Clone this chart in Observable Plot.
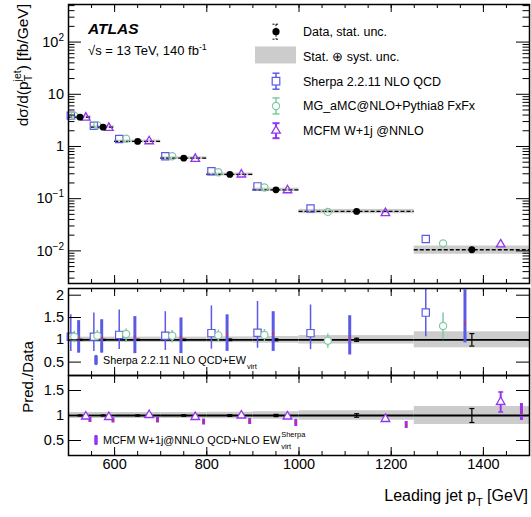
<!DOCTYPE html>
<html><head><meta charset="utf-8">
<script src="https://cdn.jsdelivr.net/npm/d3@7"></script>
<script src="https://cdn.jsdelivr.net/npm/@observablehq/plot@0.6"></script>
<style>
body{margin:0;background:#fff;}
#chart{position:relative;width:531px;height:517px;background:#fff;}
#chart > svg{display:block;}
</style></head><body><div id="chart"></div>
<script>
// ---- data ----
const binLo = [500, 550, 600, 700, 800, 900, 1000, 1250];
const binHi = [550, 600, 700, 800, 900, 1000, 1250, 1500];
const dataXsec = [3.64, 2.34, 1.25, 0.597, 0.291, 0.148, 0.0569, 0.0105];
const dataStat = [0.01, 0.01, 0.012, 0.015, 0.018, 0.022, 0.035, 0.14];
const totUnc   = [0.06, 0.06, 0.06, 0.06, 0.065, 0.075, 0.095, 0.18];
const sherpaXsec = [3.9, 2.5, 1.39, 0.65, 0.335, 0.172, 0.065, 0.0169];
const mgXsec     = [3.9, 2.55, 1.41, 0.65, 0.32, 0.164, 0.0558, 0.0138];
const mcfmXsec   = [3.57, 2.27, 1.26, 0.58, 0.29, 0.145, 0.053, 0.0133];
const sherpaRatio = [1.07, 1.07, 1.11, 1.09, 1.15, 1.16, 1.15, 1.61];
const sherpaLo    = [0.74, 0.74, 0.78, 0.76, 0.79, 0.81, 0.78, 1.07];
const sherpaHi    = [1.56, 1.60, 1.67, 1.63, 1.76, 1.86, 1.78, 2.2];
const mgRatio = [1.07, 1.09, 1.13, 1.09, 1.10, 1.11, 0.98, 1.31];
const mgLo    = [0.93, 0.95, 0.94, 0.93, 0.96, 0.96, 0.81, 1.0];
const mgHi    = [1.19, 1.21, 1.24, 1.21, 1.22, 1.23, 1.13, 1.6];
const sherpaEwRatio = [1.04, 1.06, 1.08, 1.07, 1.12, 1.14, 1.02, 1.37];
const sherpaEwLo    = [0.70, 0.70, 0.69, 0.69, 0.74, 0.74, 0.66, 0.93];
const sherpaEwHi    = [1.43, 1.45, 1.52, 1.49, 1.56, 1.63, 1.54, 2.12];
const mcfmRatio = [0.98, 0.97, 1.01, 0.97, 1.0, 0.98, 0.93, 1.27];
const mcfmLo    = [0.97, 0.96, 0.99, 0.96, 0.99, 0.97, 0.92, 1.07];
const mcfmHi    = [0.99, 0.98, 1.03, 0.98, 1.01, 0.99, 0.94, 1.47];
const mcfmEwRatio = [0.91, 0.90, 0.90, 0.87, 0.88, 0.85, 0.81, 1.07];
const mcfmEwLo    = [0.86, 0.85, 0.85, 0.81, 0.82, 0.78, 0.74, 0.90];
const mcfmEwHi    = [0.96, 0.95, 0.96, 0.93, 0.94, 0.92, 0.88, 1.24];

const xTickLabels = [600, 800, 1000, 1200, 1400];
const xMinorTicks = d3.range(500, 1501, 50);
const yTopTicks = [0.01, 0.1, 1, 10, 100];
const yTopTickText = [["10", "−2"], ["10", "−1"], ["1", ""], ["10", ""], ["10", "2"]];
const yRatioTicks = [0.5, 1, 1.5, 2];
const yRatio2Ticks = [0.5, 1, 1.5];
const legendLabels = ["Data, stat. unc.", "Stat. \u2295 syst. unc.", "Sherpa 2.2.11 NLO QCD", "MG_aMC@NLO+Pythia8 FxFx", "MCFM W+1j @NNLO"];

// ---- styling ----
const FONT = '"Liberation Sans", Arial, Helvetica, sans-serif';
const BLUE = "#5a5ae6", GREEN = "#80c9a3", PURPLE = "#9433f0", GRAY = "#cccccc", RED = "#ff2020";
const W = 531, ML = 68, MR = 2, FW = W - ML - MR;

const rows = binLo.map((lo, i) => ({i, lo, hi: binHi[i], w: binHi[i] - lo}));
const at = f => r => r.lo + f * r.w;
const capSym = {draw(ctx, size) { const h = Math.sqrt(size / Math.PI); ctx.moveTo(-h, 0); ctx.lineTo(h, 0); }};

const yMinorTop = [];
[0.001, 0.01, 0.1, 1, 10, 100].forEach(d => { for (let k = 2; k <= 9; k++) { const v = d * k; if (v > 0.00237 && v < 525) yMinorTop.push(v); } });

function frameTicks(FH, yMaj, yLen, yMin, yMinLen) {
  const m = [
    Plot.tickX(xMinorTicks, {x: d => d, insetTop: FH - 4, stroke: "black"}),
    Plot.tickX(xMinorTicks, {x: d => d, insetBottom: FH - 4, stroke: "black"}),
    Plot.tickX(xTickLabels, {x: d => d, insetTop: FH - 8, stroke: "black"}),
    Plot.tickX(xTickLabels, {x: d => d, insetBottom: FH - 8, stroke: "black"}),
    Plot.tickY(yMaj, {y: d => d, insetRight: FW - yLen, stroke: "black"}),
    Plot.tickY(yMaj, {y: d => d, insetLeft: FW - yLen, stroke: "black"})
  ];
  if (yMin) m.push(
    Plot.tickY(yMin, {y: d => d, insetRight: FW - yMinLen, stroke: "black"}),
    Plot.tickY(yMin, {y: d => d, insetLeft: FW - yMinLen, stroke: "black"}));
  m.push(Plot.frame({stroke: "black", strokeWidth: 1.5}));
  return m;
}
const baseStyle = {fontFamily: FONT, background: "transparent", overflow: "visible"};

// ---- top panel ----
const topPlot = Plot.plot({
  width: W, height: 285, marginLeft: ML, marginRight: MR, marginTop: 4, marginBottom: 2,
  style: baseStyle,
  x: {domain: [500, 1500], axis: null},
  y: {type: "log", domain: [0.00237, 525], axis: null},
  marks: [
    Plot.rect(rows, {x1: "lo", x2: "hi", y1: r => dataXsec[r.i] * (1 - totUnc[r.i]), y2: r => dataXsec[r.i] * (1 + totUnc[r.i]), fill: GRAY}),
    Plot.ruleY(rows, {x1: "lo", x2: "hi", y: r => dataXsec[r.i], stroke: "black", strokeWidth: 1.3, strokeDasharray: "4,2"}),
    Plot.ruleX(rows, {x: at(0.5), y1: r => dataXsec[r.i] * (1 - dataStat[r.i]), y2: r => dataXsec[r.i] * (1 + dataStat[r.i]), stroke: "black", strokeDasharray: "2,1"}),
    Plot.dot(rows, {x: at(0.1), y: r => sherpaXsec[r.i], symbol: "square", r: 4.1, stroke: BLUE, strokeWidth: 1.2, fill: "none"}),
    Plot.dot(rows, {x: at(0.25), y: r => mgXsec[r.i], symbol: "circle", r: 3.6, stroke: GREEN, strokeWidth: 1.2, fill: "none"}),
    Plot.dot(rows, {x: at(0.75), y: r => mcfmXsec[r.i], symbol: "triangle", r: 3.2, stroke: PURPLE, strokeWidth: 1.3, fill: "none"}),
    Plot.dot(rows, {x: at(0.5), y: r => dataXsec[r.i], r: 3.4, fill: "black"}),
    ...frameTicks(279, yTopTicks, 13, yMinorTop, 6.5)
  ]
});

// ---- ratio panel: Sherpa / MG ----
const midPlot = Plot.plot({
  width: W, height: 90, marginLeft: ML, marginRight: MR, marginTop: 3, marginBottom: 0,
  style: baseStyle,
  x: {domain: [500, 1500], axis: null},
  y: {domain: [0.2, 2.15], axis: null},
  marks: [
    Plot.rect(rows, {x1: "lo", x2: "hi", y1: r => 1 - totUnc[r.i], y2: r => 1 + totUnc[r.i], fill: GRAY}),
    Plot.ruleY(rows, {x1: "lo", x2: "hi", y: 1, stroke: "black", strokeWidth: 1.8}),
    Plot.ruleX(rows, {x: at(0.5), y1: r => 1 - dataStat[r.i], y2: r => 1 + dataStat[r.i], stroke: "black", strokeWidth: 1.2}),
    Plot.dot(rows, {x: at(0.5), y: r => 1 - dataStat[r.i], symbol: capSym, r: 2.5, stroke: "black", strokeWidth: 1.2}),
    Plot.dot(rows, {x: at(0.5), y: r => 1 + dataStat[r.i], symbol: capSym, r: 2.5, stroke: "black", strokeWidth: 1.2}),
    Plot.ruleX(rows, {x: at(0.1), y1: r => sherpaLo[r.i], y2: r => sherpaHi[r.i], stroke: BLUE, strokeWidth: 1.5, clip: true}),
    Plot.ruleX(rows, {x: at(0.25), y1: r => mgLo[r.i], y2: r => mgHi[r.i], stroke: GREEN, strokeWidth: 1.5}),
    Plot.ruleX(rows, {x: at(0.44), y1: r => sherpaEwLo[r.i], y2: r => sherpaEwHi[r.i], stroke: BLUE, strokeWidth: 3, clip: true}),
    Plot.dot(rows, {x: at(0.44), y: r => sherpaEwRatio[r.i], r: 1.1, fill: RED}),
    Plot.dot(rows, {x: at(0.1), y: r => sherpaRatio[r.i], symbol: "square", r: 4.1, stroke: BLUE, strokeWidth: 1.2, fill: "white"}),
    Plot.dot(rows, {x: at(0.25), y: r => mgRatio[r.i], symbol: "circle", r: 3.6, stroke: GREEN, strokeWidth: 1.2, fill: "white"}),
    ...frameTicks(87, yRatioTicks, 13),
    Plot.axisY(yRatioTicks, {anchor: "left", tickSize: 0, tickPadding: 4.5, fontSize: 14.5, label: null, tickFormat: d => String(d)})
  ]
});

// ---- ratio panel: MCFM ----
const botPlot = Plot.plot({
  width: W, height: 142, marginLeft: ML, marginRight: MR, marginTop: 0, marginBottom: 62,
  style: baseStyle,
  x: {domain: [500, 1500]},
  y: {domain: [0.2, 1.8]},
  marks: [
    Plot.rect(rows, {x1: "lo", x2: "hi", y1: r => 1 - totUnc[r.i], y2: r => 1 + totUnc[r.i], fill: GRAY}),
    Plot.ruleY(rows, {x1: "lo", x2: "hi", y: 1, stroke: "black", strokeWidth: 1.8}),
    Plot.ruleX(rows, {x: at(0.5), y1: r => 1 - dataStat[r.i], y2: r => 1 + dataStat[r.i], stroke: "black", strokeWidth: 1.2}),
    Plot.dot(rows, {x: at(0.5), y: r => 1 - dataStat[r.i], symbol: capSym, r: 2.5, stroke: "black", strokeWidth: 1.2}),
    Plot.dot(rows, {x: at(0.5), y: r => 1 + dataStat[r.i], symbol: capSym, r: 2.5, stroke: "black", strokeWidth: 1.2}),
    Plot.ruleX(rows, {x: at(0.75), y1: r => mcfmLo[r.i], y2: r => mcfmHi[r.i], stroke: PURPLE, strokeWidth: 2}),
    Plot.dot(rows, {x: at(0.75), y: r => mcfmLo[r.i], symbol: capSym, r: 2.5, stroke: PURPLE, strokeWidth: 1.5}),
    Plot.dot(rows, {x: at(0.75), y: r => mcfmHi[r.i], symbol: capSym, r: 2.5, stroke: PURPLE, strokeWidth: 1.5}),
    Plot.ruleX(rows, {x: at(0.93), y1: r => mcfmEwLo[r.i], y2: r => mcfmEwHi[r.i], stroke: PURPLE, strokeWidth: 3}),
    Plot.dot(rows, {x: at(0.93), y: r => mcfmEwRatio[r.i], r: 1.1, fill: RED}),
    Plot.dot(rows, {x: at(0.75), y: r => mcfmRatio[r.i], symbol: "triangle", r: 3.2, stroke: PURPLE, strokeWidth: 1.3, fill: "white"}),
    ...frameTicks(80, yRatio2Ticks, 13),
    Plot.axisY(yRatio2Ticks, {anchor: "left", tickSize: 0, tickPadding: 4.5, fontSize: 14.5, label: null, tickFormat: d => String(d)}),
    Plot.axisX(xTickLabels, {anchor: "bottom", tickSize: 0, tickPadding: 3, fontSize: 14.5, label: null, tickFormat: d => String(d)})
  ]
});

const chart = document.getElementById("chart");
chart.append(topPlot, midPlot, botPlot);

// ---- overlay texts (titles, legend, labels) ----
const ov = d3.select(chart).append("svg").attr("width", W).attr("height", 517)
  .style("position", "absolute").style("left", 0).style("top", 0).style("pointer-events", "none")
  .attr("font-family", FONT);

// top-panel y tick labels placed through the plot's own y scale
const syTop = topPlot.scale("y");
yTopTicks.forEach((v, k) => {
  const t = ov.append("text").attr("x", 64).attr("y", syTop.apply(v) + 5.2).attr("text-anchor", "end").attr("font-size", 14.5);
  t.append("tspan").text(yTopTickText[k][0]);
  if (yTopTickText[k][1]) t.append("tspan").attr("dy", -6).attr("font-size", 10).text(yTopTickText[k][1]);
});

// axis titles
const yt = ov.append("text").attr("transform", "translate(28,4) rotate(-90)").attr("text-anchor", "end").attr("font-size", 15.5);
yt.append("tspan").text("d\u03c3/d(p");
yt.append("tspan").attr("dy", 4).attr("font-size", 10.5).text("T");
yt.append("tspan").attr("dx", -6.5).attr("dy", -11).attr("font-size", 10.5).text("jet");
yt.append("tspan").attr("dy", 7).text(") [fb/GeV]");

ov.append("text").attr("transform", "translate(33,377) rotate(-90)").attr("text-anchor", "middle").attr("font-size", 15).text("Pred./Data");

const xt = ov.append("text").attr("x", 528).attr("y", 501).attr("text-anchor", "end").attr("font-size", 16);
xt.append("tspan").text("Leading jet p");
xt.append("tspan").attr("dy", 5).attr("font-size", 11).text("T");
xt.append("tspan").attr("dy", -5).text(" [GeV]");

// ATLAS label
ov.append("text").attr("x", 88).attr("y", 34).attr("font-size", 15.5).attr("font-weight", "bold").attr("font-style", "italic").text("ATLAS");
const lumi = ov.append("text").attr("x", 88).attr("y", 55).attr("font-size", 13);
lumi.append("tspan").text("\u221as = 13 TeV, 140 fb");
lumi.append("tspan").attr("dy", -5).attr("font-size", 9).text("-1");

// legend
const lx = 276, tx = 303, ly0 = 31.7, dly = 24.75;
legendLabels.forEach((s, k) => {
  ov.append("text").attr("x", tx).attr("y", ly0 + k * dly + 4.5).attr("font-size", 12.5).text(s);
});
function errSym(g, cy, half, color, sw, dash) {
  g.append("line").attr("x1", lx).attr("x2", lx).attr("y1", cy - half).attr("y2", cy + half).attr("stroke", color).attr("stroke-width", sw).attr("stroke-dasharray", dash || null);
  [cy - half, cy + half].forEach(yy => g.append("line").attr("x1", lx - 3.5).attr("x2", lx + 3.5).attr("y1", yy).attr("y2", yy).attr("stroke", color).attr("stroke-width", sw).attr("stroke-dasharray", dash || null));
}
errSym(ov, ly0, 7.5, "black", 1, "2,1.5");
ov.append("circle").attr("cx", lx).attr("cy", ly0).attr("r", 3.6).attr("fill", "black");
ov.append("rect").attr("x", 255).attr("y", ly0 + dly - 10).attr("width", 41).attr("height", 17).attr("fill", GRAY);
errSym(ov, ly0 + 2 * dly, 8, BLUE, 1.5);
ov.append("rect").attr("x", lx - 3.8).attr("y", ly0 + 2 * dly - 3.8).attr("width", 7.6).attr("height", 7.6).attr("fill", "white").attr("stroke", BLUE).attr("stroke-width", 1.2);
errSym(ov, ly0 + 3 * dly, 8, GREEN, 1.5);
ov.append("circle").attr("cx", lx).attr("cy", ly0 + 3 * dly).attr("r", 3.6).attr("fill", "white").attr("stroke", GREEN).attr("stroke-width", 1.2);
errSym(ov, ly0 + 4 * dly, 7.5, PURPLE, 2);
ov.append("path").attr("d", d3.symbol(d3.symbolTriangle, Math.PI * 3.2 * 3.2)()).attr("transform", `translate(${lx},${ly0 + 4 * dly})`).attr("fill", "white").attr("stroke", PURPLE).attr("stroke-width", 1.3);

// ratio panel labels
function panelLabel(y, color, main, sup, sub) {
  ov.append("line").attr("x1", 96).attr("x2", 96).attr("y1", y - 7.5).attr("y2", y - 0.5).attr("stroke", color).attr("stroke-width", 3.5).attr("stroke-linecap", "round");
  const t = ov.append("text").attr("x", 103).attr("y", y).attr("font-size", 10.8).text(main);
  const x2 = 103 + t.node().getComputedTextLength() + 1;
  if (sup) ov.append("text").attr("x", x2).attr("y", y - 7).attr("font-size", 7.5).text(sup);
  if (sub) ov.append("text").attr("x", x2).attr("y", y + 5).attr("font-size", 7.5).text(sub);
}
panelLabel(364, BLUE, "Sherpa 2.2.11 NLO QCD+EW", null, "virt");
panelLabel(444, PURPLE, "MCFM W+1j@NNLO QCD+NLO EW", "Sherpa", "virt");
</script></body></html>
